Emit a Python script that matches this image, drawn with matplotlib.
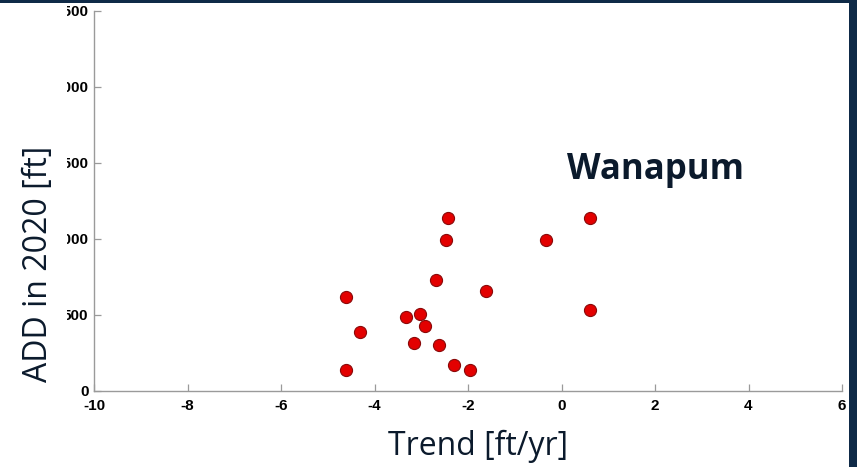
import matplotlib
matplotlib.use("Agg")
import matplotlib.pyplot as plt
from matplotlib.patches import Rectangle
from matplotlib.transforms import Bbox, TransformedBbox

plt.rcParams["font.family"] = ["Liberation Sans"]
plt.rcParams["font.weight"] = "bold"
plt.rcParams["axes.unicode_minus"] = False

# trend vs. depth for the Wanapum wells
trend = [-4.62, -4.62, -4.32, -3.33, -3.15, -3.03, -2.92, -2.61, -2.69,
         -2.43, -2.47, -2.31, -1.96, -1.62, -0.33, 0.60, 0.60]
add_2020 = [620, 140, 386, 489, 318, 509, 430, 300, 730,
            1138, 993, 173, 140, 656, 993, 1138, 533]
xticks = [-10, -8, -6, -4, -2, 0, 2, 4, 6]
yticks = [0, 500, 1000, 1500, 2000, 2500]

navy = "#0f2a47"
ink = "#0b1a2c"
W, H = 857, 467

fig = plt.figure(figsize=(W / 100, H / 100), dpi=100)
fig.patch.set_facecolor(navy)
fig.add_artist(Rectangle((0, 0), 848.5 / W, (H - 3) / H, transform=fig.transFigure,
                         facecolor="white", edgecolor="none", zorder=-1))

ax = fig.add_axes([94 / W, (H - 391) / H, (842 - 94) / W, (391 - 11) / H])
ax.set_facecolor("white")
ax.scatter(trend, add_2020, s=76, facecolor="#e30000", edgecolor="#8a0a0a",
           linewidth=0.8, zorder=3, clip_on=False)

ax.set_xlim(-10, 6)
ax.set_ylim(0, 2500)
ax.set_xticks(xticks)
ax.set_yticks(yticks)
for side in ("top", "right"):
    ax.spines[side].set_visible(False)
for side in ("left", "bottom"):
    ax.spines[side].set_color("#9a9a9a")
    ax.spines[side].set_linewidth(1.0)
ax.tick_params(direction="in", length=5, width=0.9, color="#9a9a9a",
               labelsize=11, labelcolor="black")
ax.tick_params(axis="x", pad=6)
ax.tick_params(axis="y", pad=4)

# y tick labels are cut off on the left edge of the plot image
clip = TransformedBbox(Bbox([[67 / W, 0], [1, 1]]), fig.transFigure)
for lbl in ax.get_yticklabels():
    lbl.set_clip_box(clip)
    lbl.set_clip_on(True)

ax.text(0.12, 1395, "Wanapum", fontsize=25, fontweight="bold",
        family="Open Sans", color=ink, ha="left", va="baseline")

fig.text(478 / W, (H - 455) / H, "Trend [ft/yr]", fontsize=23, fontweight="normal",
         family="Open Sans", color=ink, ha="center", va="baseline")
fig.text(47 / W, (H - 264) / H, "ADD in 2020 [ft]", fontsize=23, fontweight="normal",
         family="Open Sans", color=ink, rotation=90, rotation_mode="anchor",
         ha="center", va="baseline")

fig.savefig("out.png", dpi=100, facecolor=fig.get_facecolor())
